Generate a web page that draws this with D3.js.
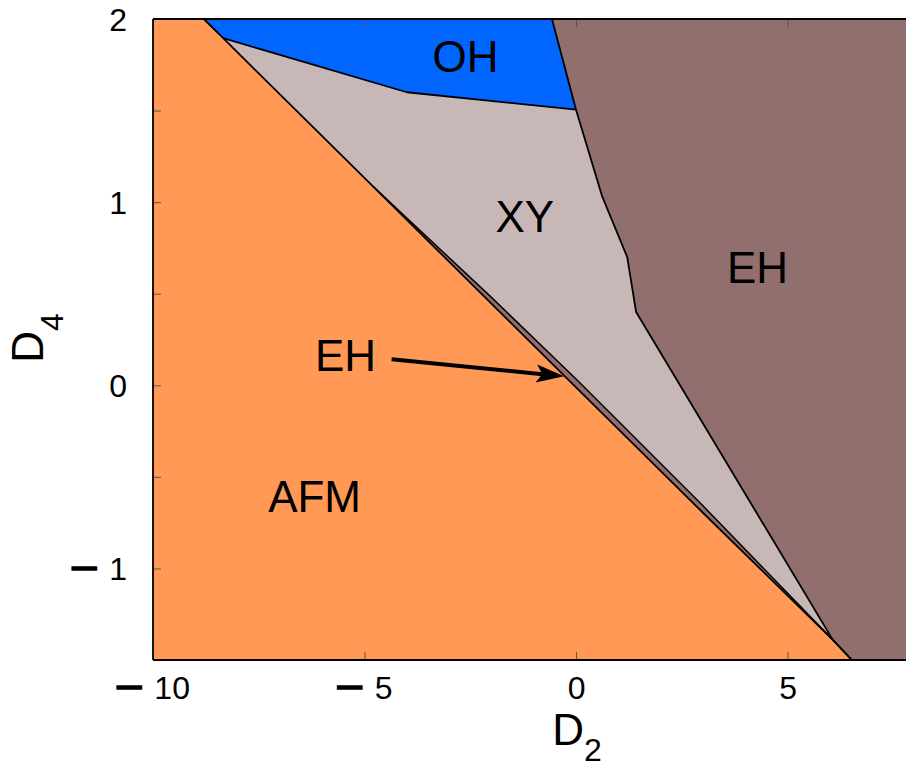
<!DOCTYPE html>
<html>
<head>
<meta charset="utf-8">
<script src="https://cdn.jsdelivr.net/npm/d3@7"></script>
<style>
  html, body { margin: 0; padding: 0; background: #fff; }
  svg { display: block; font-family: "Liberation Sans", Arial, sans-serif; }
</style>
</head>
<body>
<svg id="chart" width="906" height="768"></svg>
<script>
// ---- data (D2, D4 coordinates) ----
const xTicks = [-10, -5, 0, 5];
const yTicks = [-1.5, -1, -0.5, 0, 0.5, 1, 1.5, 2];
const xDomain = [-10, 7.8];
const yDomain = [-1.5, 2];

// phase boundary lines
const afmBoundary = [[-8.8, 2.0], [-8.34, 1.895], [-4.5, 1.0175], [-2, 0.446], [0, -0.011], [3, -0.696], [6.07, -1.39], [6.52, -1.5]];
const sliverTop   = [[-4.8, 1.086], [-2, 0.480], [0, 0.034], [3, -0.658], [6.07, -1.39]];
const ohXyBoundary = [[-8.34, 1.895], [-4.0, 1.60], [0, 1.505]];
const ehBoundary  = [[-0.57, 2.0], [0, 1.505], [0.62, 1.03], [1.21, 0.70], [1.42, 0.40], [6.07, -1.39], [6.52, -1.5]];

// phase regions
const regionAFM = [[-10, 2], [-8.8, 2.0], [-8.34, 1.895], [-4.5, 1.0175], [-2, 0.446], [0, -0.011], [3, -0.696], [6.07, -1.39], [6.52, -1.5], [-10, -1.5]];
const regionOH  = [[-8.8, 2.0], [-0.57, 2.0], [0, 1.505], [-4.0, 1.60], [-8.34, 1.895]];
const regionXY  = [[-8.34, 1.895], [-4.0, 1.60], [0, 1.505], [0.62, 1.03], [1.21, 0.70], [1.42, 0.40], [6.07, -1.39], [3, -0.658], [0, 0.034], [-2, 0.480], [-4.8, 1.086]];
const regionEH  = [[-0.57, 2.0], [7.8, 2.0], [7.8, -1.5], [6.52, -1.5], [6.07, -1.39], [1.42, 0.40], [1.21, 0.70], [0.62, 1.03], [0, 1.505]];
const regionEHsliver = [[-4.8, 1.086], [-2, 0.480], [0, 0.034], [3, -0.658], [6.07, -1.39], [3, -0.696], [0, -0.011], [-2, 0.446], [-4.5, 1.0175]];

// phase labels [text, D2, D4 (baseline)]
const phaseLabels = [["OH", -2.61, 1.711], ["XY", -1.21, 0.835], ["EH", 4.29, 0.556], ["AFM", -6.18, -0.69], ["EH", -5.45, 0.076]];
const arrowFrom = [-4.36, 0.142];
const arrowTo = [-0.28, 0.049];

// ---- layout ----
const margin = {left: 153, top: 19, right: 0, bottom: 108};
const W = 906, H = 768;
const svg = d3.select("#chart");
const x = d3.scaleLinear().domain(xDomain).range([margin.left, W - margin.right]);
const y = d3.scaleLinear().domain(yDomain).range([H - margin.bottom, margin.top]);

const line = d3.line().x(d => x(d[0])).y(d => y(d[1]));
const poly = pts => line(pts) + "Z";

const colors = {AFM: "#ff9955", OH: "#0066ff", XY: "#c8b7b7", EH: "#916f6f"};

const g = svg.append("g");
g.append("path").attr("d", poly(regionAFM)).attr("fill", colors.AFM);
g.append("path").attr("d", poly(regionOH)).attr("fill", colors.OH);
g.append("path").attr("d", poly(regionXY)).attr("fill", colors.XY);
g.append("path").attr("d", poly(regionEH)).attr("fill", colors.EH);
g.append("path").attr("d", poly(regionEHsliver)).attr("fill", colors.EH);

// boundaries
[[afmBoundary, 1.8], [sliverTop, 1.5], [ohXyBoundary, 1.8], [ehBoundary, 1.8]].forEach(([b, w]) => {
  g.append("path").attr("d", line(b)).attr("fill", "none")
    .attr("stroke", "#000").attr("stroke-width", w).attr("stroke-linejoin", "round");
});

// tick label with wide minus sign
function tickLabel(sel) {
  sel.each(function(d) {
    const t = d3.select(this);
    const show = Number.isInteger(d);
    t.text(null);
    if (!show) return;
    if (d < 0) {
      t.append("tspan").style("font-size", "44px")
        .attr("stroke", "#000").attr("stroke-width", 1.3).text("\u2013");
      t.append("tspan").text("\u2009\u2009" + Math.abs(d));
    } else {
      t.text(String(d));
    }
  });
}

// axes
const axG = svg.append("g");
const yAxis = d3.axisLeft(y).tickValues(yTicks).tickSize(-8).tickPadding(26);
const yg = axG.append("g").attr("transform", `translate(${margin.left},0)`).call(yAxis);
const xAxis = d3.axisBottom(x).tickValues(xTicks).tickSize(-8).tickPadding(16);
const xg = axG.append("g").attr("transform", `translate(0,${y(yDomain[0])})`).call(xAxis);
const xTop = d3.axisTop(x).tickValues(xTicks).tickSize(-8).tickFormat("");
const xtg = axG.append("g").attr("transform", `translate(0,${y(yDomain[1])})`).call(xTop);
[yg, xg, xtg].forEach(a => {
  a.select(".domain").remove();
  a.selectAll(".tick line").attr("stroke", "#555").attr("stroke-width", 1);
  a.selectAll(".tick text").attr("fill", "#000").style("font-size", "32px")
    .style("font-family", "'Liberation Sans', Arial, sans-serif");
});
yg.selectAll(".tick text").attr("dy", "0.36em").call(tickLabel);
xg.selectAll(".tick text").call(tickLabel);

// frame (left, bottom, top)
axG.append("line").attr("x1", x(xDomain[0])).attr("x2", x(xDomain[0]))
  .attr("y1", y(yDomain[1])).attr("y2", y(yDomain[0])).attr("stroke", "#000").attr("stroke-width", 1.8);
axG.append("line").attr("x1", x(xDomain[0])).attr("x2", x(xDomain[1]))
  .attr("y1", y(yDomain[0])).attr("y2", y(yDomain[0])).attr("stroke", "#000").attr("stroke-width", 1.8);
axG.append("line").attr("x1", x(xDomain[0])).attr("x2", x(xDomain[1]))
  .attr("y1", y(yDomain[1])).attr("y2", y(yDomain[1])).attr("stroke", "#000").attr("stroke-width", 1.8);

// phase labels
svg.append("g").selectAll("text").data(phaseLabels).join("text")
  .attr("x", d => x(d[1])).attr("y", d => y(d[2]))
  .attr("text-anchor", "middle").style("font-size", "44px").attr("fill", "#000")
  .text(d => d[0]);

// arrow
const ax0 = x(arrowFrom[0]), ay0 = y(arrowFrom[1]), ax1 = x(arrowTo[0]), ay1 = y(arrowTo[1]);
const ang = Math.atan2(ay1 - ay0, ax1 - ax0);
const headLen = 28, headW = 9, back = 22;
const cos = Math.cos(ang), sin = Math.sin(ang);
const pt = (l, w) => [ax1 - l * cos - w * sin, ay1 - l * sin + w * cos];
svg.append("line").attr("x1", ax0).attr("y1", ay0)
  .attr("x2", pt(back, 0)[0]).attr("y2", pt(back, 0)[1])
  .attr("stroke", "#000").attr("stroke-width", 4);
svg.append("path")
  .attr("d", "M" + [ax1, ay1] + "L" + pt(headLen, headW) + "L" + pt(back, 0) + "L" + pt(headLen, -headW) + "Z")
  .attr("fill", "#000");

// axis titles
const xt = svg.append("text").attr("x", 577).attr("y", 745).attr("text-anchor", "middle")
  .style("font-size", "44px").attr("fill", "#000");
xt.append("tspan").text("D");
xt.append("tspan").attr("dy", 16).style("font-size", "32px").text("2");
const yt = svg.append("text").attr("transform", "translate(43,338) rotate(-90)").attr("text-anchor", "middle")
  .style("font-size", "44px").attr("fill", "#000");
yt.append("tspan").text("D");
yt.append("tspan").attr("dy", 20).style("font-size", "32px").text("4");
</script>
</body>
</html>
